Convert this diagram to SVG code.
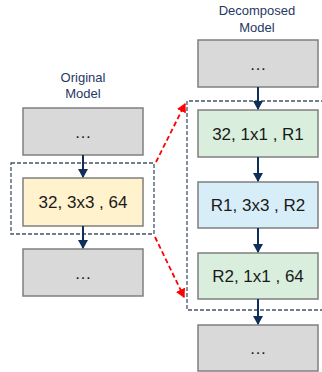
<svg xmlns="http://www.w3.org/2000/svg" width="322" height="372" viewBox="0 0 322 372">
<style>
.box{stroke:#7f7f7f;stroke-width:1.5}
.gray{fill:#d9d9d9}
.yel{fill:#fff2cc}
.grn{fill:#d9eedd}
.blu{fill:#d7eef8}
.lbl{font-family:"Liberation Sans",Arial,sans-serif;font-size:17px;fill:#1a1a1a;text-anchor:middle}
.ttl{font-family:"Liberation Sans",Arial,sans-serif;font-size:13px;fill:#1f3864;text-anchor:middle}
.flow{stroke:#0f2e5a;stroke-width:2;fill:none;marker-end:url(#ah)}
.grp{fill:none;stroke:#44546a;stroke-width:1.3;stroke-dasharray:4,2}
.red{stroke:#ff0000;stroke-width:1.8;stroke-dasharray:5,3;fill:none;marker-end:url(#rh)}
</style>
<defs>
<marker id="ah" markerWidth="10" markerHeight="10" refX="8" refY="5" orient="auto" markerUnits="userSpaceOnUse"><path d="M0,0 L9,5 L0,10 z" fill="#0f2e5a"/></marker>
<marker id="rh" markerWidth="10" markerHeight="10" refX="8" refY="5" orient="auto" markerUnits="userSpaceOnUse"><path d="M0,0 L9,5 L0,10 z" fill="#ff0000"/></marker>
</defs>
<g id="titles">
<text class="ttl" x="83" y="82">Original</text>
<text class="ttl" x="83" y="98">Model</text>
<text class="ttl" x="257" y="15">Decomposed</text>
<text class="ttl" x="257" y="32">Model</text>
</g>
<g id="groups">
<rect class="grp" x="11" y="163" width="143" height="71"/>
<path class="grp" d="M325,101 H187 V310 H325"/>
</g>
<g id="orig-top"><rect class="box gray" x="23" y="108" width="120" height="47"/><text class="lbl" x="83" y="138">…</text></g>
<g id="orig-conv"><rect class="box yel" x="23" y="178" width="120" height="48"/><text class="lbl" x="83" y="208">32, 3x3 , 64</text></g>
<g id="orig-bot"><rect class="box gray" x="23" y="249" width="120" height="47"/><text class="lbl" x="83" y="279">…</text></g>
<g id="dec-top"><rect class="box gray" x="198" y="40" width="120" height="47"/><text class="lbl" x="258" y="70">…</text></g>
<g id="dec-c1"><rect class="box grn" x="198" y="110" width="120" height="47"/><text class="lbl" x="258" y="140">32, 1x1 , R1</text></g>
<g id="dec-c2"><rect class="box blu" x="198" y="182" width="120" height="46"/><text class="lbl" x="258" y="211">R1, 3x3 , R2</text></g>
<g id="dec-c3"><rect class="box grn" x="198" y="253" width="120" height="46"/><text class="lbl" x="258" y="282">R2, 1x1 , 64</text></g>
<g id="dec-bot"><rect class="box gray" x="198" y="325" width="120" height="46"/><text class="lbl" x="258" y="354">…</text></g>
<g id="connectors">
<line class="flow" x1="83" y1="155" x2="83" y2="177"/>
<line class="flow" x1="83" y1="226" x2="83" y2="248"/>
<line class="flow" x1="258" y1="87" x2="258" y2="109"/>
<line class="flow" x1="258" y1="157" x2="258" y2="181"/>
<line class="flow" x1="258" y1="228" x2="258" y2="252"/>
<line class="flow" x1="258" y1="299" x2="258" y2="324"/>
<line class="red" x1="156" y1="162" x2="185" y2="104"/>
<line class="red" x1="155" y1="237" x2="184" y2="297"/>
</g>
</svg>
